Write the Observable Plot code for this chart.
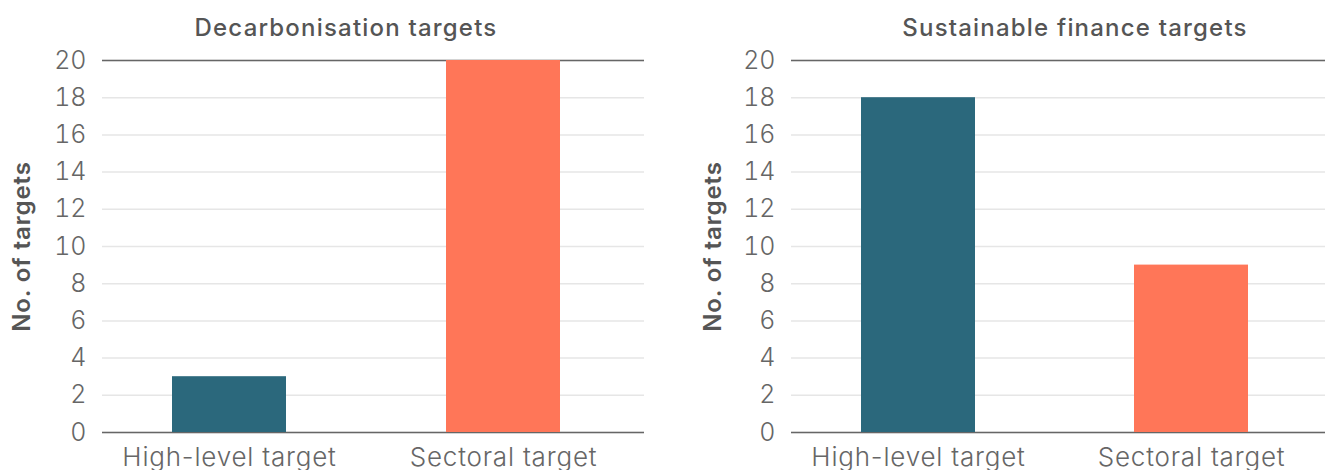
<!DOCTYPE html>
<html>
<head>
<meta charset="utf-8">
<script src="https://cdn.jsdelivr.net/npm/d3@7"></script>
<script src="https://cdn.jsdelivr.net/npm/@observablehq/plot@0.6"></script>
<style>
  html, body { margin: 0; padding: 0; background: #fff; overflow: hidden; }
  #wrap { position: relative; width: 1325px; height: 470px; font-family: Inter, "Noto Sans", sans-serif; }
  .title { position: absolute; top: 13px; transform: translateX(-50%); white-space: nowrap;
           font-size: 24px; font-weight: 500; letter-spacing: 1.2px; color: #555; line-height: 30px; }
  .panel { position: absolute; top: 45px; }
</style>
</head>
<body>
<div id="wrap">
  <div class="title" id="t1" style="left:346px">Decarbonisation targets</div>
  <div class="title" id="t2" style="left:1075px">Sustainable finance targets</div>
  <div class="panel" id="p1" style="left:0px"></div>
  <div class="panel" id="p2" style="left:662px"></div>
</div>
<script>
const categories = ["High-level target", "Sectoral target"];
const decarbonisation = [3, 20];
const sustainableFinance = [18, 9];
const yTicks = [0, 2, 4, 6, 8, 10, 12, 14, 16, 18, 20];
const frameLines = [0, 20];
const barColors = ["#2b687c", "#ff7658"];
const yLabel = "No. of targets";

function chart(values, o) {
  const data = categories.map((c, i) => ({cat: c, value: values[i]}));
  const svg = Plot.plot({
    width: o.width,
    height: 425,
    marginTop: 15,
    marginBottom: 38,
    marginLeft: o.marginLeft,
    marginRight: o.marginRight,
    style: {fontFamily: "Inter, 'Noto Sans', sans-serif", fontSize: "25px", fontWeight: 300, color: "#666", background: "white", overflow: "visible"},
    x: {domain: categories, range: o.xRange, paddingInner: o.pad, paddingOuter: o.pad / 2, label: null, tickSize: 0, tickPadding: 15},
    y: {domain: [0, 20], ticks: yTicks, tickSize: 0, tickPadding: 16, label: yLabel, labelAnchor: "center", labelOffset: o.labelOffset, labelArrow: false},
    color: {domain: categories, range: barColors},
    marks: [
      Plot.ruleY(yTicks, {stroke: "#e6e6e6", strokeWidth: 1.5}),
      Plot.ruleY(frameLines, {stroke: "#666", strokeWidth: 1.5}),
      Plot.barY(data, {x: "cat", y: "value", fill: "cat"})
    ]
  });
  const lab = svg.querySelector('[aria-label="y-axis label"]');
  if (lab) {
    const set = el => { el.setAttribute("font-weight", "600"); el.setAttribute("font-size", "24px"); el.setAttribute("letter-spacing", "0.9px"); el.setAttribute("fill", "#555"); };
    set(lab);
    lab.querySelectorAll("text").forEach(set);
  }
  const xl = svg.querySelector('[aria-label="x-axis tick label"]');
  if (xl) {
    xl.setAttribute("font-size", "26px");
    xl.setAttribute("letter-spacing", "0.8px");
  }
  return svg;
}

document.getElementById("p1").appendChild(chart(decarbonisation, {
  width: 662, marginLeft: 102, marginRight: 18, xRange: [92, 640], pad: 0.584, labelOffset: 90
}));
document.getElementById("p2").appendChild(chart(sustainableFinance, {
  width: 663, marginLeft: 129, marginRight: 0, xRange: [119.6, 665.6], pad: 0.582, labelOffset: 88
}));
</script>
</body>
</html>
